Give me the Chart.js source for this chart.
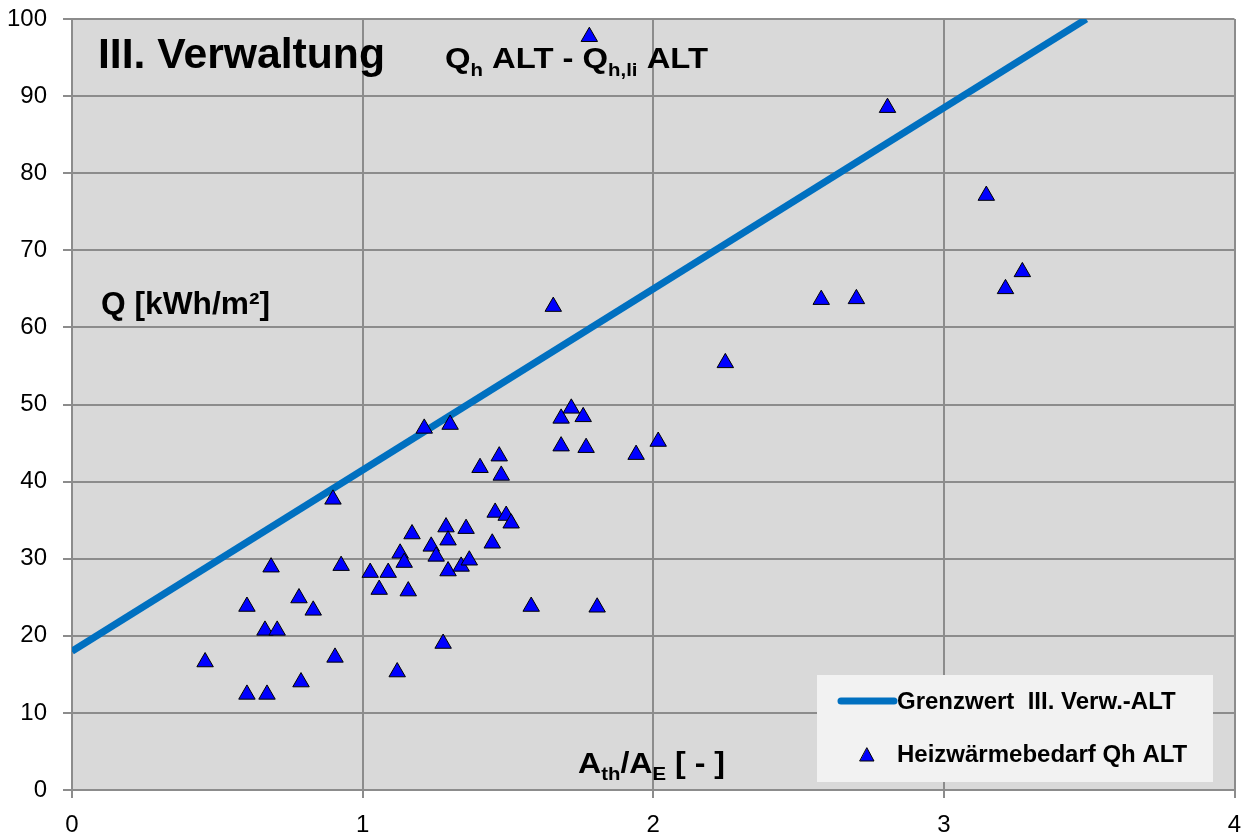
<!DOCTYPE html>
<html>
<head>
<meta charset="utf-8">
<script src="https://cdn.jsdelivr.net/npm/chart.js@4/dist/chart.umd.min.js"></script>
<style>
  html, body { margin: 0; padding: 0; background: #fff; }
  #wrap { width: 1245px; height: 837px; }
</style>
</head>
<body>
<div id="wrap"><canvas id="qhChart" width="1245" height="837"></canvas></div>
<script>
// A_th/A_E der Gebaeude (x) und Heizwaermebedarf Qh ALT (y)
const aRatio = [0.458, 0.602, 0.602, 0.664, 0.671, 0.685, 0.706, 0.781, 0.788, 0.830,
  0.898, 0.905, 0.926, 1.026, 1.057, 1.088, 1.119, 1.129, 1.143, 1.157,
  1.170, 1.212, 1.236, 1.253, 1.277, 1.287, 1.294, 1.294, 1.301, 1.339,
  1.356, 1.367, 1.404, 1.446, 1.456, 1.470, 1.477, 1.494, 1.511, 1.580,
  1.656, 1.683, 1.683, 1.718, 1.759, 1.769, 1.780, 1.807, 1.941, 2.017,
  2.248, 2.578, 2.699, 2.806, 3.146, 3.212, 3.270];
const qHeat = [16.6, 23.8, 12.4, 20.7, 12.4, 28.9, 20.7, 24.9, 14.0, 23.3,
  37.7, 17.2, 29.1, 28.2, 26.0, 28.2, 15.3, 30.7, 29.5, 25.8,
  33.2, 46.9, 31.6, 30.3, 19.0, 34.1, 32.4, 28.4, 47.4, 29.0,
  33.9, 29.8, 41.8, 32.0, 36.0, 43.3, 40.8, 35.6, 34.6, 23.8,
  62.7, 48.2, 44.6, 49.5, 48.4, 44.4, 97.7, 23.7, 43.5, 45.2,
  55.4, 63.6, 63.7, 88.5, 77.1, 65.0, 67.2];

// Grenzwert III. Verw.-ALT (Gerade)
const limitX = [0, 3.49];
const limitY = [18, 100];

const xTicks = [0, 1, 2, 3, 4];
const yTicks = [0, 10, 20, 30, 40, 50, 60, 70, 80, 90, 100];

const lineColor = '#0070C0';
const markerColor = '#0000FF';
const FONT = '"Liberation Sans", Arial, sans-serif';

const heatPoints = aRatio.map((x, i) => ({ x: x, y: qHeat[i] }));
const limitPoints = limitX.map((x, i) => ({ x: x, y: limitY[i] }));

// Hintergrund der Zeichenflaeche
const plotBg = {
  id: 'plotBg',
  beforeDraw(chart) {
    const { ctx, chartArea: a } = chart;
    ctx.save();
    ctx.fillStyle = '#D9D9D9';
    ctx.fillRect(a.left, a.top, a.right - a.left, a.bottom - a.top);
    ctx.restore();
  }
};

// Text aus Teilen (mit Tiefstellung), schmal gezogen auf Zielbreite
function drawRich(ctx, parts, x, y, width) {
  let natural = 0;
  parts.forEach(p => { ctx.font = p.font; natural += ctx.measureText(p.t).width; });
  const sx = width ? width / natural : 1;
  ctx.save();
  ctx.translate(x, y);
  ctx.scale(sx, 1);
  let cx = 0;
  parts.forEach(p => {
    ctx.font = p.font;
    ctx.fillText(p.t, cx, p.dy || 0);
    cx += ctx.measureText(p.t).width;
  });
  ctx.restore();
}

// Texte und Legende im Diagramm
const annotations = {
  id: 'annotations',
  afterDraw(chart) {
    const ctx = chart.ctx;
    ctx.save();
    ctx.fillStyle = '#000';
    ctx.textBaseline = 'alphabetic';
    ctx.textAlign = 'left';

    drawRich(ctx, [{ t: 'III. Verwaltung', font: 'bold 42px ' + FONT }], 98, 68, 287);

    const big = 'bold 29px ' + FONT;
    const sub = 'bold 18px ' + FONT;
    drawRich(ctx, [
      { t: 'Q', font: big }, { t: 'h', font: sub, dy: 8 }, { t: ' ALT - Q', font: big },
      { t: 'h,li', font: sub, dy: 8 }, { t: ' ALT', font: big }
    ], 445, 68, 263);

    drawRich(ctx, [{ t: 'Q [kWh/m²]', font: 'bold 31px ' + FONT }], 101, 314, 169);

    const big2 = 'bold 30px ' + FONT;
    const sub2 = 'bold 19px ' + FONT;
    drawRich(ctx, [
      { t: 'A', font: big2 }, { t: 'th', font: sub2, dy: 7 }, { t: '/A', font: big2 },
      { t: 'E', font: sub2, dy: 7 }, { t: ' [ - ]', font: big2 }
    ], 578, 773, 147);

    // Legende
    ctx.fillStyle = '#F2F2F2';
    ctx.fillRect(817, 675, 396, 107);
    ctx.strokeStyle = lineColor;
    ctx.lineWidth = 7;
    ctx.lineCap = 'round';
    ctx.beginPath();
    ctx.moveTo(841, 701);
    ctx.lineTo(894, 701);
    ctx.stroke();
    ctx.fillStyle = markerColor;
    ctx.strokeStyle = '#000';
    ctx.lineWidth = 1;
    ctx.beginPath();
    ctx.moveTo(867, 748);
    ctx.lineTo(874, 761);
    ctx.lineTo(860, 761);
    ctx.closePath();
    ctx.fill();
    ctx.stroke();
    ctx.fillStyle = '#000';
    ctx.font = 'bold 24px ' + FONT;
    ctx.fillText('Grenzwert  III. Verw.-ALT', 897, 709);
    ctx.fillText('Heizwärmebedarf Qh ALT', 897, 762);
    ctx.restore();
  }
};

new Chart(document.getElementById('qhChart'), {
  type: 'scatter',
  data: {
    datasets: [
      {
        label: 'Heizwärmebedarf Qh ALT',
        data: heatPoints,
        pointStyle: 'triangle',
        pointRadius: 9.5,
        pointHoverRadius: 9.5,
        backgroundColor: markerColor,
        borderColor: '#000',
        borderWidth: 1
      },
      {
        label: 'Grenzwert  III. Verw.-ALT',
        data: limitPoints,
        showLine: true,
        borderColor: lineColor,
        borderWidth: 7,
        pointRadius: 0,
        fill: false
      }
    ]
  },
  options: {
    responsive: false,
    animation: false,
    layout: { padding: { top: 19, right: 8, left: 0, bottom: 0 } },
    plugins: {
      legend: { display: false },
      tooltip: { enabled: false }
    },
    scales: {
      x: {
        type: 'linear',
        min: 0,
        max: 4,
        afterBuildTicks: s => { s.ticks = xTicks.map(v => ({ value: v })); },
        afterFit: s => { s.height = 47; s.paddingRight = 0; s.paddingLeft = 0; },
        grid: { color: '#8C8C8C', lineWidth: 2, tickLength: 8 },
        border: { color: '#8C8C8C', width: 2 },
        ticks: { color: '#000', font: { size: 24, family: FONT }, padding: 13, maxRotation: 0 }
      },
      y: {
        type: 'linear',
        min: 0,
        max: 100,
        afterBuildTicks: s => { s.ticks = yTicks.map(v => ({ value: v })); },
        afterFit: s => { s.width = 72; s.paddingTop = 0; s.paddingBottom = 0; },
        grid: { color: '#8C8C8C', lineWidth: 2, tickLength: 9 },
        border: { color: '#8C8C8C', width: 2 },
        ticks: { color: '#000', font: { size: 24, family: FONT }, padding: 16 }
      }
    }
  },
  plugins: [plotBg, annotations]
});
</script>
</body>
</html>
